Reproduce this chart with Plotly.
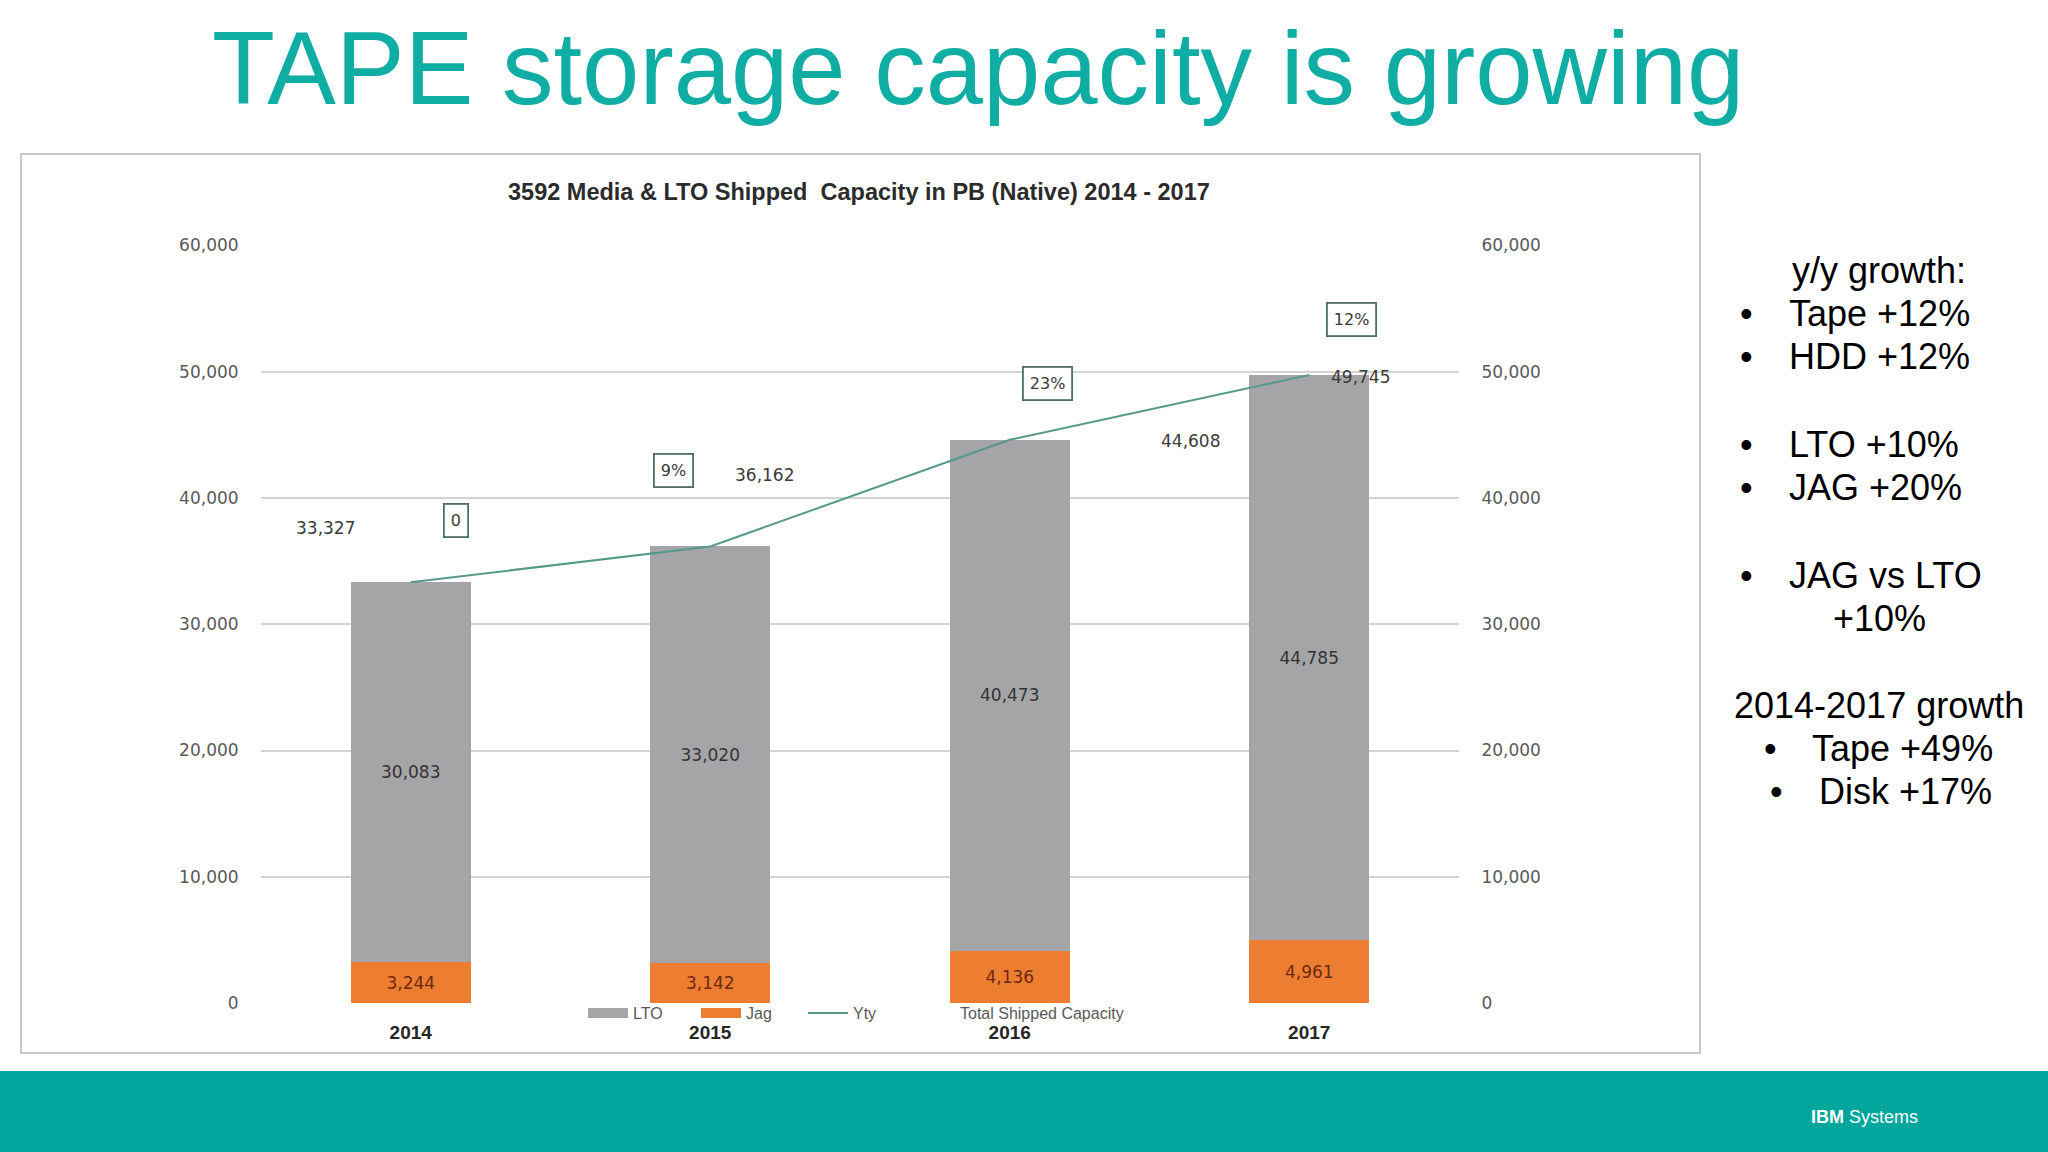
import plotly.graph_objects as go

# ---------------- data ----------------
years = ["2014", "2015", "2016", "2017"]
lto = [30083, 33020, 40473, 44785]
jag = [3244, 3142, 4136, 4961]
total = [33327, 36162, 44608, 49745]
yty_labels = ["0", "9%", "23%", "12%"]
y_ticks = [0, 10000, 20000, 30000, 40000, 50000, 60000]

side_lines = [
    ("y/y growth:", None),
    ("Tape +12%", "b1"),
    ("HDD +12%", "b1"),
    ("LTO +10%", "b1"),
    ("JAG +20%", "b1"),
    ("JAG vs LTO", "b1"),
    ("+10%", None),
    ("2014-2017 growth", None),
    ("Tape +49%", "b2"),
    ("Disk +17%", "b3"),
]

# ---------------- layout helpers ----------------
W, H = 2048, 1152
def px(x):
    return x / W
def py(y):
    return 1 - y / H

PLOT_L, PLOT_R, PLOT_T, PLOT_B = 261, 1459, 245.5, 1003
NUM_FONT = "DejaVu Sans"
SANS = "Liberation Sans, Arial"
LTO_C, JAG_C = "#A5A5A7", "#ED7D31"

fig = go.Figure()

fig.add_trace(go.Bar(
    x=years, y=jag, name="Jag", marker=dict(color=JAG_C, line=dict(width=0)),
    texttemplate="%{y:,}", textposition="inside", insidetextanchor="middle",
    textfont=dict(family=NUM_FONT, size=17, color="#6E2A0E"),
    showlegend=False, yaxis="y",
))
fig.add_trace(go.Bar(
    x=years, y=lto, name="LTO", marker=dict(color=LTO_C, line=dict(width=0)),
    texttemplate="%{y:,}", textposition="inside", insidetextanchor="middle",
    textfont=dict(family=NUM_FONT, size=17, color="#333333"),
    showlegend=False, yaxis="y",
))
fig.add_trace(go.Scatter(
    x=years, y=total, name="Yty", mode="lines",
    line=dict(color="#55998A", width=2), legend="legend3", yaxis="y2",
))
fig.add_trace(go.Scatter(
    x=years, y=total, name="Total Shipped Capacity", mode="lines",
    line=dict(color="rgba(0,0,0,0)", width=1), legend="legend4", yaxis="y2",
))
# legend swatches for the bar series (wide rectangles, as in the original)
fig.add_trace(go.Scatter(x=[None], y=[None], name="LTO", mode="lines",
                         line=dict(color=LTO_C, width=12), legend="legend"))
fig.add_trace(go.Scatter(x=[None], y=[None], name="Jag", mode="lines",
                         line=dict(color=JAG_C, width=12), legend="legend2"))

annotations = []

# total labels (offsets in px) -- category index used for x
total_offsets = [(-85, 54), (54, 71), (181, -1), (51, -2)]
for i, (t, (dx, dy)) in enumerate(zip(total, total_offsets)):
    annotations.append(dict(
        x=i, y=t, xref="x", yref="y", text=f"{t:,}", showarrow=False,
        xshift=dx, yshift=dy, font=dict(family=NUM_FONT, size=17, color="#3A3A3A"),
    ))

# yty percentage boxes
pct_offsets = [(45, 62), (-37, 76), (38, 56), (42, 55)]
for i, (t, lab, (dx, dy)) in enumerate(zip(total, yty_labels, pct_offsets)):
    annotations.append(dict(
        x=i, y=t, xref="x", yref="y", text=lab, showarrow=False,
        xshift=dx, yshift=dy, font=dict(family=NUM_FONT, size=16, color="#3A3A3A"),
        bordercolor="#4F6F62", borderwidth=1.8, borderpad=6, bgcolor="white",
    ))

# slide title
annotations.append(dict(
    x=px(978), y=py(68), xref="paper", yref="paper", text="TAPE storage capacity is growing",
    showarrow=False, xanchor="center", yanchor="middle",
    font=dict(family=SANS, size=103, color="#10ADA5"),
))
# chart title
annotations.append(dict(
    x=px(859), y=py(192), xref="paper", yref="paper",
    text="<b>3592 Media &amp; LTO Shipped  Capacity in PB (Native) 2014 - 2017</b>",
    showarrow=False, xanchor="center", yanchor="middle",
    font=dict(family=SANS, size=23.5, color="#2B2B2B"),
))

# side text
side_y = [270, 313.5, 356.5, 444, 487, 575, 618, 705, 748, 791.5]
bullet_x = {"b1": (1746, 1787), "b2": (1770, 1810), "b3": (1776, 1817)}
for (txt, b), yy in zip(side_lines, side_y):
    if b is None:
        annotations.append(dict(
            x=px(1879), y=py(yy), xref="paper", yref="paper", text=txt, showarrow=False,
            xanchor="center", yanchor="middle", font=dict(family=SANS, size=36, color="#000000"),
        ))
    else:
        bx, tx = bullet_x[b]
        annotations.append(dict(
            x=px(bx), y=py(yy), xref="paper", yref="paper", text="•", showarrow=False,
            xanchor="center", yanchor="middle", font=dict(family=SANS, size=36, color="#000000"),
        ))
        annotations.append(dict(
            x=px(tx), y=py(yy), xref="paper", yref="paper", text=txt, showarrow=False,
            xanchor="left", yanchor="middle", font=dict(family=SANS, size=36, color="#000000"),
        ))

# footer text
annotations.append(dict(
    x=px(1809), y=py(1117), xref="paper", yref="paper", text="<b>IBM</b> Systems",
    showarrow=False, xanchor="left", yanchor="middle",
    font=dict(family=SANS, size=18, color="#FFFFFF"),
))

shapes = [
    dict(type="rect", xref="paper", yref="paper", x0=px(21), x1=px(1700), y0=py(1053), y1=py(154),
         line=dict(color="#C8C8C8", width=2), fillcolor="rgba(0,0,0,0)", layer="below"),
    dict(type="rect", xref="paper", yref="paper", x0=0, x1=1, y0=0, y1=py(1071),
         line=dict(width=0), fillcolor="#00A59C", layer="below"),
]

legend_common = dict(orientation="h", xanchor="left", yanchor="middle", bgcolor="rgba(0,0,0,0)",
                     font=dict(family=SANS, size=16, color="#595959"), itemwidth=40,
                     borderwidth=0)
ly = py(1013)

fig.update_layout(
    width=W, height=H, autosize=False,
    margin=dict(l=0, r=0, t=0, b=0, pad=0, autoexpand=False),
    paper_bgcolor="white", plot_bgcolor="white",
    barmode="stack", bargap=0.6,
    showlegend=True,
    legend=dict(x=px(583), y=ly, **legend_common),
    legend2=dict(x=px(696), y=ly, **legend_common),
    legend3=dict(x=px(803), y=ly, **legend_common),
    legend4=dict(x=px(910), y=ly, **legend_common),
    xaxis=dict(type="category", categoryorder="array", categoryarray=years,
               range=[-0.5, len(years) - 0.5], autorange=False,
               domain=[px(PLOT_L), px(PLOT_R)], showgrid=False, showline=False,
               zeroline=False, automargin=False,
               ticks="outside", ticklen=12, tickcolor="rgba(0,0,0,0)",
               tickfont=dict(family=SANS, size=19, color="#262626"),
               tickprefix="<b>", ticksuffix="</b>"),
    yaxis=dict(domain=[py(PLOT_B), py(PLOT_T)], range=[0, 60000], autorange=False, tickvals=y_ticks,
               tickformat=",", showgrid=True, gridcolor="#D4D4D4", gridwidth=1.5,
               zeroline=False, showline=False, ticks="outside", ticklen=18, automargin=False,
               tickcolor="rgba(0,0,0,0)",
               tickfont=dict(family=NUM_FONT, size=17, color="#595959")),
    yaxis2=dict(overlaying="y", side="right", range=[0, 60000], autorange=False, tickvals=y_ticks,
                tickformat=",", showgrid=False, zeroline=False, showline=False, automargin=False,
                ticks="outside", ticklen=18, tickcolor="rgba(0,0,0,0)",
                tickfont=dict(family=NUM_FONT, size=17, color="#595959"), anchor="x"),
    annotations=annotations,
    shapes=shapes,
)

fig.write_html(
    "out.html",
    config={"displayModeBar": False},
    post_script="document.body.style.margin='0';document.body.style.padding='0';",
)
